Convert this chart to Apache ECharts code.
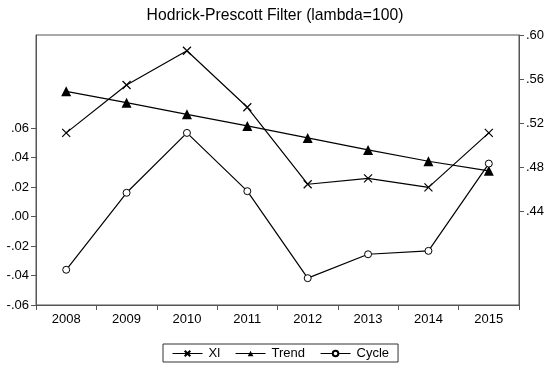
<!DOCTYPE html>
<html><head><meta charset="utf-8">
<script src="https://cdn.jsdelivr.net/npm/echarts@6/dist/echarts.min.js"></script>
<style>html,body{margin:0;padding:0;background:#fff}#c{width:550px;height:366px}</style>
</head><body><div id="c"></div>
<script>
const years = ['2008','2009','2010','2011','2012','2013','2014','2015'];
const xl = [0.511, 0.5545, 0.5857, 0.5343, 0.4643, 0.4697, 0.4615, 0.511];
const trend = [0.5488, 0.5385, 0.5279, 0.5173, 0.5064, 0.4955, 0.4852, 0.4765];
const cycle = [-0.0361, 0.0161, 0.0567, 0.0172, -0.0418, -0.0256, -0.0233, 0.0359];
const leftTicks = [-0.06, -0.04, -0.02, 0.00, 0.02, 0.04, 0.06];
const rightTicks = [0.44, 0.48, 0.52, 0.56, 0.60];

const fmt = v => v.toFixed(2).replace('0.', '.');
const font = 'Liberation Sans, Arial, sans-serif';
const chart = echarts.init(document.getElementById('c'), null, {renderer: 'canvas'});
const xPath = 'path://M0,0L10,10M0,10L10,0';
chart.setOption({
  animation: false,
  backgroundColor: '#fff',
  title: {text: 'Hodrick-Prescott Filter (lambda=100)', left: 'center', top: 3,
    textStyle: {fontFamily: font, fontSize: 15.7, fontWeight: 'normal', color: '#000'}},
  grid: {left: 36, right: 31, top: 35, bottom: 61, show: true, borderColor: '#555', borderWidth: 1},
  legend: {
    top: 344, left: 163, borderColor: '#333', borderWidth: 1, padding: [3, 9, 2, 9], itemGap: 15,
    itemWidth: 30, itemHeight: 7,
    lineStyle: {width: 1},
    textStyle: {fontFamily: font, fontSize: 13, color: '#000', padding: [0, 0, 0, 1]},
    data: ['Xl', 'Trend', 'Cycle']
  },
  xAxis: {
    type: 'category', data: years, boundaryGap: true,
    axisLine: {onZero: false, lineStyle: {color: '#555'}},
    axisTick: {show: true, length: 5, inside: false, lineStyle: {color: '#555'}},
    axisLabel: {fontFamily: font, fontSize: 13, color: '#000', margin: 8},
    splitLine: {show: false}
  },
  yAxis: [
    {type: 'value', position: 'left', min: -0.06, max: 0.1231,
      axisLine: {show: true, onZero: false, lineStyle: {color: '#555'}},
      axisTick: {show: true, length: 5, customValues: leftTicks, lineStyle: {color: '#555'}},
      axisLabel: {customValues: leftTicks, formatter: fmt, fontFamily: font, fontSize: 13, color: '#000', margin: 7},
      splitLine: {show: false}},
    {type: 'value', position: 'right', min: 0.3545, max: 0.60,
      axisLine: {show: true, onZero: false, lineStyle: {color: '#555'}},
      axisTick: {show: true, length: 5, customValues: rightTicks, lineStyle: {color: '#555'}},
      axisLabel: {customValues: rightTicks, formatter: fmt, fontFamily: font, fontSize: 13, color: '#000', margin: 7},
      splitLine: {show: false}}
  ],
  series: [
    {name: 'Xl', type: 'line', yAxisIndex: 1, data: xl, symbol: xPath, symbolSize: 8,
      lineStyle: {color: '#000', width: 1.2}, itemStyle: {color: '#000', borderColor: '#000', borderWidth: 1.2}},
    {name: 'Trend', type: 'line', yAxisIndex: 1, data: trend, symbol: 'triangle', symbolSize: 10,
      lineStyle: {color: '#000', width: 1.2}, itemStyle: {color: '#000'}},
    {name: 'Cycle', type: 'line', yAxisIndex: 0, data: cycle, symbol: 'circle', symbolSize: 7,
      lineStyle: {color: '#000', width: 1.2}, itemStyle: {color: '#fff', borderColor: '#000', borderWidth: 1}}
  ]
});
</script></body></html>
